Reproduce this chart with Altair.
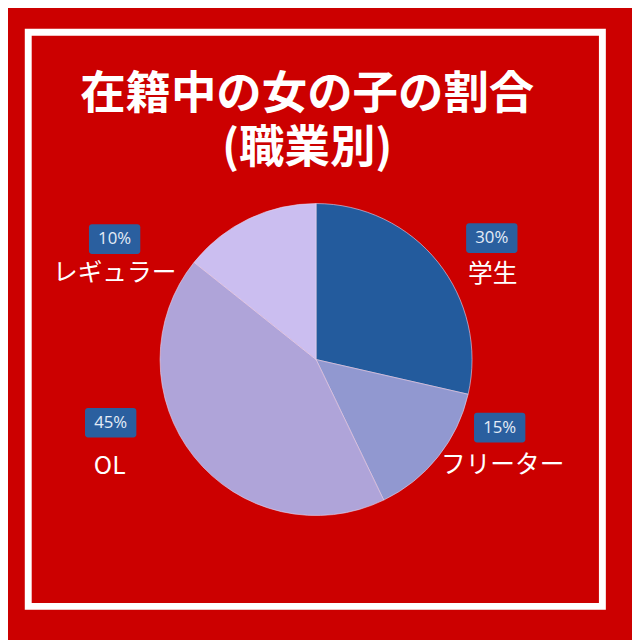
import altair as alt
import pandas as pd

# ---- data ----
categories = ["学生", "フリーター", "OL", "レギュラー"]
values = [30, 15, 45, 15]          # slice sizes as drawn
pct_labels = ["30%", "15%", "45%", "10%"]  # texts shown in the boxes
colors = ["#235b9d", "#9198d0", "#afa4d9", "#cbbef0"]
title_lines = ["在籍中の女の子の割合", "(職業別)"]

df = pd.DataFrame({
    "cat": categories,
    "value": values,
    "order": list(range(len(categories))),
})

W, H = 632, 632
CX, CY, R = 312, 352, 158
JP = "Noto Sans CJK JP"

# layout for annotation labels (chart coordinates): box centre, name centre
label_layout = {
    "学生": ((490, 229), (491, 265)),
    "フリーター": ((498, 421), (501, 459)),
    "OL": ((104, 416), (103, 460)),
    "レギュラー": ((108, 230), (108, 264)),
}

pie = alt.Chart(df).mark_arc(outerRadius=R, stroke="#e8d8f0", strokeWidth=0.6).encode(
    theta=alt.Theta("value:Q", stack=True),
    order=alt.Order("order:Q"),
    color=alt.Color("cat:N", scale=alt.Scale(domain=categories, range=colors), legend=None),
    x=alt.value(CX),
    y=alt.value(CY),
)

one = pd.DataFrame({"k": [0]})
base = alt.Chart(one)

border = base.mark_rect(fill=None, stroke="white", strokeWidth=7).encode(
    x=alt.value(20.5), x2=alt.value(602), y=alt.value(20.5), y2=alt.value(602)
)

title = base.mark_text(text=title_lines, font=JP, fontSize=46, fontWeight="bold", color="white",
                       align="center", baseline="middle", lineHeight=55).encode(
    x=alt.value(303), y=alt.value(84)
)

layers = [border, pie, title]

for cat, pct in zip(categories, pct_labels):
    (bx, by), (nx, ny) = label_layout[cat]
    layers.append(
        base.mark_rect(fill="#2a5f9f", cornerRadius=3).encode(
            x=alt.value(bx - 26), x2=alt.value(bx + 26), y=alt.value(by - 15), y2=alt.value(by + 15)
        )
    )
    layers.append(
        base.mark_text(text=pct, font="Open Sans", fontSize=17, color="#e4ecf7",
                       align="center", baseline="middle").encode(x=alt.value(bx), y=alt.value(by))
    )
    layers.append(
        base.mark_text(text=cat, font=JP, fontSize=25, color="white",
                       align="center", baseline="middle").encode(x=alt.value(nx), y=alt.value(ny))
    )

chart = alt.layer(*layers).properties(
    width=W, height=H,
    autosize=alt.AutoSizeParams(type="none"),
    padding=0,
    background="#cc0000",
).configure_view(stroke=None)

chart.save("out.html", embed_options={"renderer": "svg", "actions": False})
